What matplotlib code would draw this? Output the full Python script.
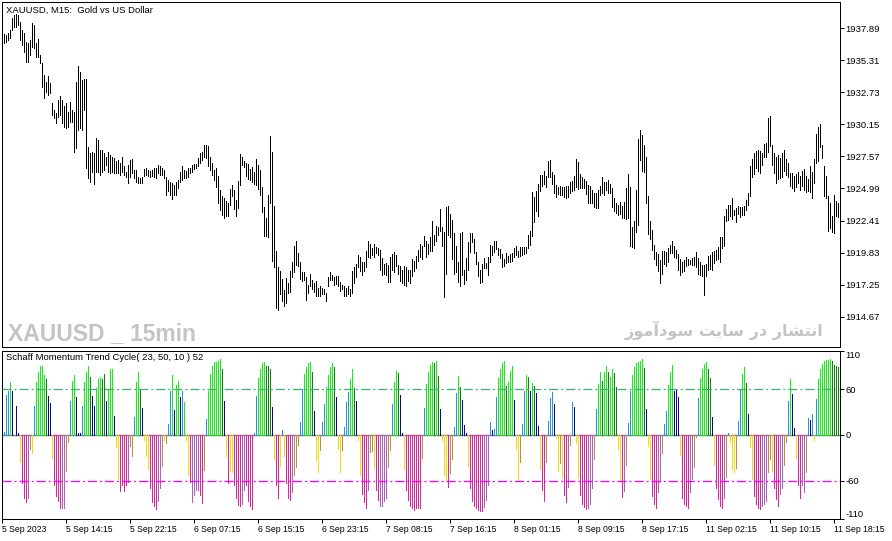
import numpy as np
import matplotlib
matplotlib.use('Agg')
import matplotlib.pyplot as plt

plt.rcParams['font.family'] = ['Liberation Sans', 'DejaVu Sans']
plt.rcParams['lines.scale_dashes'] = False

# XAUUSD M15 bars (high / low)
high = [
    1937.41, 1937.33, 1937.46, 1937.73, 1938.67, 1938.94, 1939.02, 1938.94, 1938.40, 1937.73,
    1937.46, 1936.79, 1936.66, 1936.93, 1938.32, 1938.13, 1936.66, 1936.98, 1935.72, 1935.05,
    1934.12, 1933.58, 1934.04, 1933.50, 1931.84, 1931.31, 1931.04, 1932.11, 1932.43, 1932.11,
    1931.63, 1931.84, 1931.17, 1931.98, 1931.31, 1931.17, 1933.58, 1934.84, 1934.38, 1933.71,
    1933.79, 1933.79, 1928.36, 1927.83, 1927.96, 1927.83, 1929.03, 1928.90, 1928.09, 1928.09,
    1927.83, 1927.56, 1927.96, 1927.69, 1927.56, 1927.42, 1927.16, 1927.29, 1927.02, 1927.56,
    1926.76, 1926.35, 1926.89, 1927.29, 1927.34, 1926.49, 1926.49, 1925.95, 1925.82, 1925.95,
    1926.57, 1926.62, 1926.49, 1926.43, 1926.49, 1926.67, 1926.62, 1926.89, 1926.76, 1926.62,
    1926.49, 1925.95, 1925.68, 1925.55, 1925.47, 1925.28, 1925.55, 1925.68, 1926.35, 1926.81,
    1926.49, 1926.43, 1926.62, 1926.62, 1926.89, 1926.97, 1926.94, 1927.42, 1927.88, 1927.96,
    1928.50, 1928.50, 1928.41, 1927.56, 1927.02, 1926.49,
    1926.62, 1926.00, 1924.88, 1924.40, 1924.21, 1924.02, 1923.81, 1924.93, 1925.28, 1924.83,
    1924.08, 1925.63, 1927.77, 1927.56, 1927.21, 1927.07, 1926.97, 1926.54, 1926.70, 1926.35,
    1927.34, 1926.89, 1926.48, 1925.15, 1923.49, 1922.60, 1924.48, 1929.22, 1927.96, 1923.59,
    1919.93, 1918.72, 1918.32, 1917.70, 1916.85, 1917.78, 1917.38, 1918.32, 1919.12, 1920.33,
    1920.73, 1919.79, 1919.12, 1918.24, 1918.24, 1917.87, 1917.25, 1918.13, 1917.60, 1917.38,
    1917.52, 1916.98, 1917.12, 1916.98, 1916.90, 1916.58, 1917.87, 1918.24, 1918.05, 1917.87,
    1917.92, 1917.92, 1917.44, 1917.25, 1917.12, 1916.98, 1917.17, 1916.90, 1918.32, 1918.67,
    1918.94, 1919.66, 1919.52, 1919.12, 1919.12, 1919.93, 1920.81, 1920.54, 1920.19, 1920.54,
    1920.27, 1920.19, 1920.06, 1919.39, 1918.94, 1918.99, 1918.86, 1919.52, 1919.74, 1919.85,
    1919.66, 1918.86, 1918.78, 1918.40, 1918.78, 1918.72, 1918.45, 1918.45, 1919.31, 1919.20,
    1919.58, 1920.06, 1920.54, 1920.33, 1921.18,
    1920.81, 1920.54, 1921.13, 1922.41, 1921.26, 1921.98, 1921.93, 1923.32, 1921.88, 1921.53,
    1923.48, 1923.59, 1922.95, 1922.47, 1921.40, 1920.38, 1919.12, 1921.45, 1921.50, 1918.40,
    1919.39, 1920.65, 1921.40, 1921.40, 1920.94, 1919.92, 1919.07, 1918.40, 1918.93, 1919.39,
    1919.04, 1919.52, 1920.46, 1920.38, 1920.81, 1920.73, 1920.19, 1920.11, 1919.74, 1919.31,
    1919.84, 1919.57, 1919.74, 1919.84, 1920.19, 1920.38, 1920.00, 1920.32, 1920.32, 1920.27,
    1920.32, 1921.26, 1921.61, 1924.74, 1924.34, 1924.82, 1925.36, 1926.08, 1926.08, 1926.43,
    1926.00, 1927.23, 1927.28, 1926.35, 1926.08, 1925.28, 1925.14, 1925.20, 1925.09, 1925.09,
    1925.20, 1925.20, 1925.54, 1925.62, 1926.00, 1927.34, 1927.15, 1926.16, 1925.95, 1925.73,
    1925.62, 1925.28, 1925.20, 1924.88, 1924.61, 1924.61, 1924.88, 1925.20, 1925.89, 1925.54,
    1925.54, 1925.68, 1925.36, 1925.01, 1924.21, 1923.80, 1923.67, 1923.94, 1923.59, 1923.94,
    1925.01, 1926.16, 1925.09, 1921.88, 1922.41,
    1924.83, 1928.95, 1929.70, 1929.30, 1928.50, 1927.51, 1924.35, 1922.34, 1921.62, 1920.46,
    1919.85, 1919.74, 1919.26, 1919.93, 1919.93, 1919.85, 1920.20, 1920.46, 1920.81, 1920.38,
    1920.01, 1919.74, 1919.31, 1919.05, 1919.21, 1919.47, 1919.31, 1919.26, 1919.39, 1919.47,
    1919.85, 1919.39, 1919.05, 1918.86, 1918.86, 1918.94, 1919.58, 1919.66, 1919.85, 1919.93,
    1920.06, 1920.28, 1921.13, 1921.13, 1922.79, 1923.33, 1923.68, 1923.68, 1924.21, 1923.28,
    1923.41, 1923.60, 1923.54, 1923.49, 1923.60, 1924.08, 1924.61, 1926.81, 1927.35, 1927.88,
    1928.04, 1928.09, 1928.04, 1927.88, 1928.58, 1928.68, 1930.64, 1930.83, 1928.50, 1927.88,
    1927.51, 1927.69, 1927.43, 1927.88, 1928.09, 1927.35, 1927.02, 1926.27, 1926.22, 1926.01,
    1926.17, 1926.35, 1926.01, 1926.43, 1926.54, 1926.01, 1925.74, 1926.81, 1926.35, 1927.35,
    1929.38, 1929.91, 1930.18, 1928.50, 1926.81, 1926.01, 1924.35, 1923.81, 1922.79, 1924.48,
    1923.95, 1923.81,
]
low = [
    1936.71, 1936.79, 1936.93, 1937.06, 1937.73, 1938.00, 1938.00, 1938.13, 1936.93, 1936.53,
    1935.99, 1935.19, 1935.19, 1935.72, 1936.39, 1936.26, 1935.59, 1935.59, 1935.05, 1933.13,
    1932.24, 1932.78, 1932.51, 1932.64, 1930.90, 1930.64, 1930.24, 1930.77, 1930.90, 1930.24,
    1929.97, 1929.89, 1929.97, 1930.37, 1930.37, 1927.96, 1928.23, 1929.70, 1929.83, 1929.70,
    1931.31, 1926.62, 1925.82, 1925.55, 1926.35, 1925.36, 1926.35, 1926.35, 1926.09, 1926.35,
    1926.49, 1926.89, 1926.35, 1926.22, 1926.35, 1926.22, 1926.22, 1926.22, 1926.09, 1926.35,
    1926.09, 1925.95, 1925.47, 1925.95, 1926.22, 1925.82, 1925.55, 1925.42, 1925.42, 1925.47,
    1926.01, 1926.09, 1926.01, 1925.95, 1926.01, 1925.95, 1925.87, 1926.22, 1926.09, 1926.09,
    1925.82, 1924.48, 1924.75, 1924.48, 1924.13, 1924.48, 1924.48, 1925.01, 1925.55, 1925.68,
    1925.82, 1925.82, 1925.95, 1926.22, 1926.35, 1926.54, 1926.62, 1926.76, 1927.02, 1927.29,
    1927.56, 1927.42, 1926.76, 1926.49, 1926.09, 1925.68,
    1925.15, 1923.81, 1923.27, 1922.87, 1922.60, 1922.79, 1922.74, 1923.67, 1924.40, 1923.33,
    1922.79, 1923.41, 1925.28, 1926.89, 1926.75, 1926.00, 1925.74, 1925.68, 1925.55, 1925.36,
    1925.28, 1924.93, 1924.48, 1923.14, 1921.18, 1921.18, 1921.13, 1923.81, 1919.20, 1918.67,
    1915.38, 1915.24, 1916.53, 1915.91, 1915.51, 1915.78, 1916.58, 1916.71, 1917.87, 1918.24,
    1918.86, 1918.78, 1917.70, 1917.52, 1917.65, 1915.99, 1916.58, 1917.12, 1916.90, 1916.71,
    1916.37, 1916.37, 1916.37, 1916.53, 1916.53, 1915.91, 1917.12, 1917.65, 1917.65, 1917.25,
    1917.33, 1917.17, 1916.79, 1916.90, 1916.31, 1916.31, 1916.53, 1916.37, 1916.63, 1917.38,
    1917.87, 1918.67, 1918.32, 1918.05, 1918.32, 1918.72, 1919.52, 1919.39, 1919.66, 1919.52,
    1919.79, 1919.66, 1918.45, 1918.05, 1918.13, 1918.05, 1917.44, 1917.44, 1918.45, 1918.24,
    1918.78, 1918.13, 1917.52, 1917.38, 1917.25, 1917.12, 1917.52, 1917.38, 1917.92, 1918.32,
    1918.59, 1919.20, 1919.47, 1919.31, 1920.33,
    1919.52, 1919.74, 1920.00, 1920.00, 1920.46, 1920.81, 1921.26, 1921.61, 1920.38, 1916.23,
    1918.13, 1921.26, 1921.07, 1919.31, 1918.13, 1918.24, 1917.51, 1917.19, 1918.05, 1917.30,
    1917.65, 1918.40, 1919.92, 1920.65, 1919.84, 1918.93, 1917.92, 1917.43, 1917.51, 1918.58,
    1918.58, 1918.05, 1919.12, 1919.66, 1919.92, 1920.11, 1919.66, 1919.39, 1918.72, 1918.77,
    1919.04, 1919.12, 1919.12, 1919.20, 1919.52, 1919.66, 1919.47, 1919.57, 1919.66, 1919.74,
    1919.84, 1920.19, 1920.46, 1921.18, 1922.33, 1923.22, 1922.79, 1924.82, 1925.20, 1925.36,
    1925.09, 1925.89, 1925.89, 1925.36, 1924.66, 1924.29, 1924.55, 1924.47, 1924.47, 1924.29,
    1924.21, 1924.29, 1924.61, 1924.82, 1924.88, 1925.09, 1924.93, 1925.01, 1925.01, 1925.01,
    1924.55, 1923.86, 1923.86, 1923.86, 1923.54, 1923.40, 1923.40, 1924.47, 1924.66, 1924.47,
    1924.88, 1924.61, 1924.66, 1923.48, 1923.22, 1923.00, 1922.87, 1922.95, 1922.60, 1922.60,
    1922.55, 1922.60, 1920.38, 1920.27, 1920.19,
    1921.46, 1922.07, 1927.29, 1926.43, 1926.35, 1923.81, 1921.35, 1920.92, 1920.06, 1919.31,
    1918.86, 1918.32, 1917.39, 1918.14, 1918.94, 1918.78, 1919.05, 1919.80, 1919.80, 1919.47,
    1919.39, 1918.40, 1918.06, 1918.24, 1918.32, 1918.78, 1918.86, 1918.94, 1918.86, 1918.86,
    1918.67, 1918.14, 1918.06, 1917.92, 1916.45, 1917.98, 1918.40, 1918.51, 1918.40, 1918.99,
    1919.21, 1919.31, 1919.05, 1920.20, 1920.33, 1922.34, 1922.42, 1922.74, 1922.53, 1922.87,
    1922.26, 1922.95, 1922.69, 1922.87, 1922.87, 1923.28, 1923.68, 1924.35, 1925.95, 1926.17,
    1926.62, 1926.43, 1926.27, 1926.89, 1927.51, 1927.51, 1927.96, 1928.42, 1926.89, 1926.27,
    1925.42, 1925.74, 1925.82, 1925.95, 1926.43, 1926.09, 1925.95, 1925.20, 1925.02, 1924.75,
    1925.10, 1925.42, 1924.83, 1925.20, 1924.88, 1924.67, 1924.75, 1924.67, 1924.21, 1925.47,
    1927.02, 1927.16, 1928.36, 1927.43, 1924.35, 1924.21, 1921.54, 1921.80, 1921.46, 1921.40,
    1922.79, 1922.69,
]

# Schaff Momentum Trend Cycle histogram values + colour code per bar
smtc = [
    4, 53, 57, 70, 58, 0, 38, 2, -36, -63,
    -82, -88, -82, -18, -24, 38, 70, 83, 90, 90,
    78, 73, 51, 42, -30, -65, -80, -87, -95, -95,
    -95, -47, -9, 44, 71, 79, 50, 2, 2, 38,
    69, 83, 90, 76, 51, 38, 61, 73, 76, 73,
    80, 45, 60, 87, 86, 25, -16, -58, -73, -66,
    -73, -66, -62, -14, -27, 23, 69, 82, 60, 35,
    -6, -27, -45, -69, -88, -93, -97, -86, -70, -40,
    -6, -10, 15, 57, 78, 33, 65, 71, 50, 57,
    43, -6, -52, -61, -88, -79, -72, -72, -79, -89,
    -46, 21, 58, 80, 90, 95, 96, 97, 99, 87,
    45, -27, -63, -47, -49, -66, -83, -92, -93, -90,
    -72, -66, -87, -93, -97, 2, 51, 74, 87, 94,
    96, 90, 90, 87, 37, -32, -66, -83, -40, 7,
    -27, -63, -82, -85, -74, -53, -42, -13, 17, 60,
    80, 89, 94, 96, 83, 32, -33, -49, -20, 17,
    41, 63, 79, 89, 94, 89, 50, -18, -49, -19,
    10, 43, 56, 73, 87, 61, 45, -6, -53, -77,
    -88, -95, -72, -22, -21, -42, -72, -85, -93, -93,
    -87, -82, -42, -19, 41, 69, 84, 81, 53, 3,
    -44, -72, -85, -93, -96, -98, -96, -96, -95, -30,
    35, 67, 83, 92, 95, 94, 97, 77, 34, -6,
    -53, -60, -68, -50, -32, 10, 55, 77, 63, 46,
    13, 3, -40, -70, -87, -93, -96, -98, -99, -100,
    -94, -85, -66, 17, 7, 8, 50, 74, 87, 94,
    97, 64, 70, 84, 91, 46, -18, -60, -35, 15,
    57, 79, 76, 57, 68, 64, 55, 12, -44, -72,
    -86, -35, 18, 48, 56, 41, -3, -47, -37, -56,
    -78, -88, -68, -13, 43, 37, -11, -56, -78, -90,
    -94, -97, -95, -90, -69, -31, 34, 67, 83, 71,
    82, 90, 83, 76, 87, 81, 63, -18, -60, -81,
    -73, -39, 16, 57, 79, 89, 94, 96, 97, 100,
    88, 34, -14, -57, -80, -90, -95, -75, -62, -23,
    15, 31, 66, 82, 92, 57, 59, 50, -26, -82,
    -91, -93, -95, -75, -58, -42, -3, 48, 74, 87,
    93, 96, 87, 74, 23, -39, -70, -84, -93, -96,
    -83, -55, 3, -9, -44, -49, -43, 18, 60, 80,
    89, 68, 27, -16, -57, -80, -91, -95, -97, -93,
    -90, -87, -49, -31, -47, -70, -84, -93, -77, -70,
    -39, -9, 44, 73, 54, 9, -30, -65, -83, -66,
    -74, -48, 22, 19, 27, -6, 47, 73, 87, 93,
    97, 98, 98, 99, 97, 92, 91, 89,
]
smtc_col = (
    "DDDLBBBBYP" "PPORYDLLLL" "LGBBYPPPPO" "ORRDLLBBBD" "LLLGBBLLLG"
    "GBLLLBYYPP" "PPORRDLLGB" "YYYPPPPOOR" "YRDDLBLLBD" "LYYPOOOOPP"
    "RDLLLLLLLG" "BYPYYPPPPO" "OPPPPDDLLL" "LGGGBYPPYD" "YPPPORRRDD"
    "LLLLGBYYRD" "DLLLLGBYYR" "DDDLLGBYYP" "PPORRYPPOO" "OORRDLLGBB"
    "YPPPPPPPPR" "DLLLLGLGBY" "YYPRRDDLGB" "BBYPPPPPPP" "OOODBDDLLL"
    "LGLLLBYYRD" "DLGBLGBBYP" "PRDDDBYYRY" "PPORDBYYPP" "PPOOORDLLG"
    "LLGLLGGYYP" "ORDDLLLLLL" "GBYYPPPOOR" "DDLLLBBBYP" "PPPOORRDLL"
    "LLGGBYPPPP" "ORDYYYRDDL" "LGBYYPPPPO" "OORRYPPPOO" "RRDLBBYPPO"
    "ORDBDYDLLL" "LLLLGGGG"
)
palette = {'L': '#00ff00', 'G': '#008c00', 'D': '#1e90ff', 'B': '#0000cd',
           'Y': '#ffd700', 'P': '#ff1493', 'O': '#ba55d3', 'R': '#cd853f'}

price_ticks = [1937.89, 1935.31, 1932.73, 1930.15, 1927.57,
               1924.99, 1922.41, 1919.83, 1917.25, 1914.67]
smtc_ticks = [110, 60, 0, -60, -110]
time_labels = ['5 Sep 2023', '5 Sep 14:15', '5 Sep 22:15', '6 Sep 07:15',
               '6 Sep 15:15', '6 Sep 23:15', '7 Sep 08:15', '7 Sep 16:15',
               '8 Sep 01:15', '8 Sep 09:15', '8 Sep 17:15', '11 Sep 02:15',
               '11 Sep 10:15', '11 Sep 18:15']
time_pos = [-1 + 32 * k for k in range(len(time_labels))]

W, H = 892, 541
fig = plt.figure(figsize=(W / 100, H / 100), dpi=100)
fig.patch.set_facecolor('white')


def box(l, t, r, b):
    return [l / W, 1 - b / H, (r - l) / W, (b - t) / H]


ax = fig.add_axes(box(2, 2, 839.5, 347))
ax2 = fig.add_axes(box(2, 351, 839.5, 519))

x = np.arange(len(high))
px = 1 / 1.389  # one pixel in points

#TODO: price bars
ax.vlines(x, low, high, color='black', lw=px, antialiased=False)
ax.set_xlim(-1, 417.75)
ax.set_ylim(1912.25, 1939.98)
ax.yaxis.tick_right()
ax.set_yticks(price_ticks)
ax.set_yticklabels([f'{v:.2f}' for v in price_ticks])
ax.tick_params(axis='y', length=3, width=px, pad=1.5, labelsize=6.8)
ax.tick_params(axis='x', bottom=False, labelbottom=False)

#TODO: indicator histogram
ax2.axhline(0, color='#808080', lw=1.5 * px, zorder=1)
ax2.vlines(x, 0, smtc, colors=[palette[c] for c in smtc_col], lw=px,
           antialiased=False, zorder=2)
ax2.axhline(60, color='#3cb371', lw=1.3 * px, dashes=(6.5, 2.2, 1.4, 2.2), zorder=3)
ax2.axhline(-60, color='#ff00ff', lw=1.3 * px, dashes=(6.5, 2.2, 1.4, 2.2), zorder=3)
ax2.set_xlim(-1, 417.75)
ax2.set_ylim(-110, 110)
ax2.yaxis.tick_right()
ax2.set_yticks(smtc_ticks)
ax2.set_yticklabels([str(v) for v in smtc_ticks])
ax2.tick_params(axis='y', length=3, width=px, pad=1.5, labelsize=6.8)
ylbl = ax2.get_yticklabels()
ylbl[0].set_verticalalignment('top')
ylbl[-1].set_verticalalignment('bottom')
ax2.set_xticks(time_pos)
ax2.set_xticklabels(time_labels)
ax2.tick_params(axis='x', length=3, width=px, pad=1.5, labelsize=6.2)
for lbl in ax2.get_xticklabels():
    lbl.set_horizontalalignment('left')

for a in (ax, ax2):
    for s in a.spines.values():
        s.set_linewidth(px)
        s.set_color('black')

fig.text(6 / W, 1 - 10 / H, 'XAUUSD, M15:  Gold vs US Dollar', fontsize=6.8, va='center')
fig.text(6 / W, 1 - 358 / H, 'Schaff Momentum Trend Cycle( 23, 50, 10 ) 52', fontsize=6.8, va='center')

# watermarks
fig.text(8 / W, 1 - 340 / H, 'XAUUSD _ 15min', family=['Liberation Sans', 'DejaVu Sans'],
         fontweight='bold', fontsize=16.5, color='#c4c4c4', va='baseline')
# "انتشار در سایت سودآموز" in presentation forms, laid out right-to-left
persian = ('\ufeaf\ufeee\ufee3\ufe81\ufea9\ufeee\ufeb3 \ufe96\ufef3\ufe8e\ufeb3 '
           '\ufead\ufea9 \ufead\ufe8e\ufeb8\ufe98\ufee7\ufe8d')
fig.text(823 / W, 1 - 336 / H, persian, family=['DejaVu Sans'], fontweight='bold',
         fontsize=11.6, color='#c4c4c4', ha='right', va='baseline')

fig.savefig('out.png', dpi=100)
